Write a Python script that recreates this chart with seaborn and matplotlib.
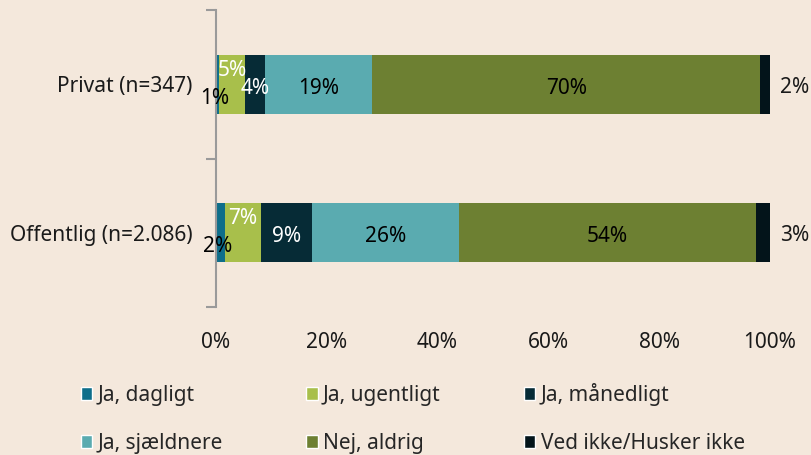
import pandas as pd
import seaborn as sns
import matplotlib.pyplot as plt
from matplotlib.patches import Patch

groups = ["Privat (n=347)", "Offentlig (n=2.086)"]
answers = ["Ja, dagligt", "Ja, ugentligt", "Ja, månedligt",
           "Ja, sjældnere", "Nej, aldrig", "Ved ikke/Husker ikke"]
privat = [0.6, 4.6, 3.6, 19.4, 70.0, 1.8]
offentlig = [1.6, 6.6, 9.2, 26.4, 53.6, 2.6]
colors = ["#0e6e8a", "#a8bf4b", "#062b36", "#5aabb0", "#6d8032", "#03141a"]
label_colors = ["black", "white", "white", "black", "black", "black"]

bg = "#f4e8dc"
sns.set_theme(style="white", rc={"axes.facecolor": bg, "figure.facecolor": bg})
plt.rcParams["font.family"] = ["Noto Sans", "DejaVu Sans"]
fs = 15

df = pd.DataFrame({"group": groups, **{a: [p, o] for a, p, o in zip(answers, privat, offentlig)}})
cum = df[answers].cumsum(axis=1)

fig = plt.figure(figsize=(8.11, 4.55), dpi=100)
ax = fig.add_axes([216 / 811, 1 - 307 / 455, (770 - 216) / 811, (307 - 10) / 455])

# stacked bars: draw cumulative totals from the last series down to the first
for a, c in reversed(list(zip(answers, colors))):
    sns.barplot(x=cum[a], y=df["group"], color=c, orient="h", width=0.4,
                saturation=1, ax=ax, edgecolor="none")

# per-segment label offsets in points (Excel-style placement)
offsets = {
    (0, 0): (-2, -10), (0, 1): (0, 10), (0, 2): (0, -3), (0, 3): (0, -3), (0, 4): (0, -3), (0, 5): (0, -3),
    (1, 0): (-2, -10), (1, 1): (0, 10), (1, 2): (0, -3), (1, 3): (0, -3), (1, 4): (0, -3), (1, 5): (0, -3),
}
for i in range(len(groups)):
    left = 0
    for j, a in enumerate(answers):
        v = df.loc[i, a]
        xc = left + v / 2
        txt = f"{v:.0f}%"
        if j == len(answers) - 1:
            ax.annotate(txt, (100, i), xytext=(7, -2), textcoords="offset points",
                        ha="left", va="center", fontsize=fs, color="#1a1a1a")
        else:
            dx, dy = offsets[(i, j)]
            ax.annotate(txt, (xc, i), xytext=(dx, dy), textcoords="offset points",
                        ha="center", va="center", fontsize=fs, color=label_colors[j])
        left += v

ax.set_xlim(0, 100)
ax.set_ylim(1.5, -0.5)
ax.set_xticks(range(0, 101, 20))
ax.set_xticklabels([f"{t}%" for t in range(0, 101, 20)])
ax.set_xlabel("")
ax.set_ylabel("")
ax.set_yticks([0, 1])
ax.set_yticklabels(groups)
ax.set_yticks([-0.5, 0.5, 1.5], minor=True)
ax.tick_params(axis="y", which="major", length=0, labelsize=fs, pad=17, colors="#1a1a1a")
ax.tick_params(axis="y", which="minor", length=7, width=1.5, color="#9a9a9a", left=True)
ax.tick_params(axis="x", length=0, labelsize=fs, pad=18, colors="#1a1a1a")
for s in ["top", "right", "bottom"]:
    ax.spines[s].set_visible(False)
ax.spines["left"].set_color("#9a9a9a")
ax.spines["left"].set_linewidth(1.5)

handles = [Patch(facecolor=c, label=a) for a, c in zip(answers, colors)]
order = [0, 3, 1, 4, 2, 5]
fig.legend([handles[k] for k in order], [answers[k] for k in order], ncol=3,
           loc="upper left", bbox_to_anchor=(62 / 811, 1 - 364 / 455), frameon=False,
           fontsize=fs, handlelength=0.55, handleheight=0.55, handletextpad=0.25,
           columnspacing=4.0, labelspacing=1.3)

fig.savefig("out.png", dpi=100, facecolor=bg)
